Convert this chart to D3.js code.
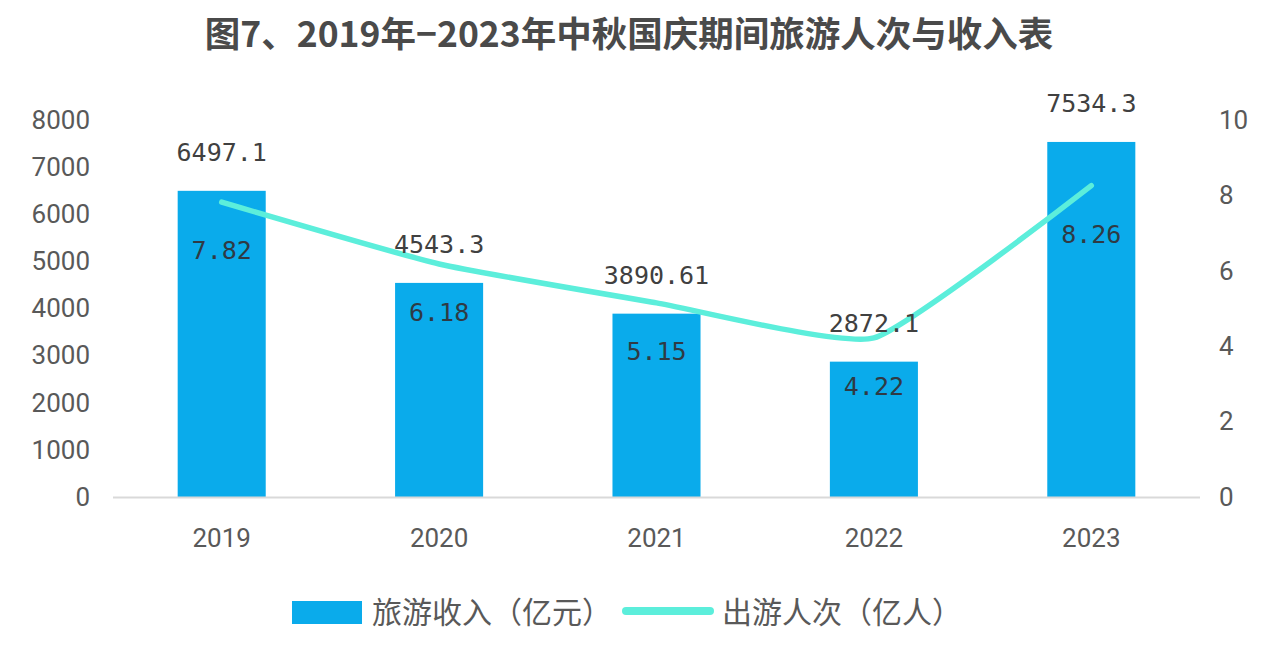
<!DOCTYPE html>
<html><head><meta charset="utf-8">
<script src="https://cdn.jsdelivr.net/npm/d3@7/dist/d3.min.js"></script>
<style>body{margin:0;background:#fff}svg{display:block}</style>
</head><body>
<svg id="c" width="1280" height="668"></svg>
<script>
const years = ["2019","2020","2021","2022","2023"];
const income = [6497.1, 4543.3, 3890.61, 2872.1, 7534.3];
const incomeLabels = ["6497.1","4543.3","3890.61","2872.1","7534.3"];
const visitors = [7.82, 6.18, 5.15, 4.22, 8.26];
const visitorLabels = ["7.82","6.18","5.15","4.22","8.26"];
const leftTicks = [0,1000,2000,3000,4000,5000,6000,7000,8000];
const rightTicks = [0,2,4,6,8,10];
const title = "图7、2019年−2023年中秋国庆期间旅游人次与收入表";
const legendNames = ["旅游收入（亿元）","出游人次（亿人）"];

const svg = d3.select("#c");
const m = {l:113, r:1200, t:120, b:497};
const x = d3.scaleBand().domain(years).range([m.l, m.r]).paddingInner(0.595).paddingOuter(0.2975);
const yL = d3.scaleLinear().domain([0,8000]).range([m.b, m.t]);
const yR = d3.scaleLinear().domain([0,10]).range([m.b, m.t]);
const barColor = "#0AABEB", lineColor = "#5CEEDB";
const sans = "Roboto, 'Noto Sans CJK SC', sans-serif";
const mono = "'DejaVu Sans Mono', monospace";

svg.append("text").attr("x", 629).attr("y", 47).attr("text-anchor","middle")
  .attr("font-family","'Noto Sans CJK SC', sans-serif").attr("font-weight","bold")
  .attr("font-size", 35.5).attr("fill","#4a4a4a").text(title);

// left axis
const ax = svg.append("g").attr("transform",`translate(${m.l},0)`)
  .call(d3.axisLeft(yL).tickValues(leftTicks).tickFormat(d3.format("d")).tickSize(0).tickPadding(23));
ax.select(".domain").remove();
ax.selectAll("text").attr("font-family",sans).attr("font-size",26).attr("fill","#595959");

const axr = svg.append("g").attr("transform",`translate(${m.r},0)`)
  .call(d3.axisRight(yR).tickValues(rightTicks).tickFormat(d3.format("d")).tickSize(0).tickPadding(19));
axr.select(".domain").remove();
axr.selectAll("text").attr("font-family",sans).attr("font-size",26).attr("fill","#595959");

// bars
svg.append("g").selectAll("rect").data(income).join("rect")
  .attr("x",(d,i)=>x(years[i])).attr("width",x.bandwidth())
  .attr("y",d=>yL(d)).attr("height",d=>yL(0)-yL(d)).attr("fill",barColor);

// baseline
svg.append("line").attr("x1",m.l).attr("x2",m.r).attr("y1",yL(0)+0.5).attr("y2",yL(0)+0.5)
  .attr("stroke","#d9d9d9").attr("stroke-width",2);

// x axis labels
const axb = svg.append("g").attr("transform",`translate(0,${m.b})`)
  .call(d3.axisBottom(x).tickSize(0).tickPadding(32));
axb.select(".domain").remove();
axb.selectAll("text").attr("font-family",sans).attr("font-size",26).attr("fill","#595959");

// line
const line = d3.line().x((d,i)=>x(years[i])+x.bandwidth()/2).y(d=>yR(d)).curve(d3.curveCardinal.tension(0.55));
svg.append("path").datum(visitors).attr("d",line).attr("fill","none")
  .attr("stroke",lineColor).attr("stroke-width",5.5).attr("stroke-linecap","round").attr("stroke-linejoin","round");

// bar labels
svg.append("g").selectAll("text").data(income).join("text")
  .attr("x",(d,i)=>x(years[i])+x.bandwidth()/2).attr("y",d=>yL(d)-30)
  .attr("text-anchor","middle").attr("font-family",mono).attr("font-size",25).attr("fill","#404040")
  .text((d,i)=>incomeLabels[i]);

// line labels
svg.append("g").selectAll("text").data(visitors).join("text")
  .attr("x",(d,i)=>x(years[i])+x.bandwidth()/2).attr("y",d=>yR(d)+57)
  .attr("text-anchor","middle").attr("font-family",mono).attr("font-size",25).attr("fill","#2f3a44")
  .text((d,i)=>visitorLabels[i]);

// legend
const lg = svg.append("g");
lg.append("rect").attr("x",292).attr("y",601).attr("width",70).attr("height",23).attr("fill",barColor);
lg.append("text").attr("x",372).attr("y",623).attr("font-family","'Noto Sans CJK SC', sans-serif")
  .attr("font-size",30).attr("fill","#595959").text(legendNames[0]);
lg.append("line").attr("x1",626).attr("x2",710).attr("y1",611).attr("y2",611)
  .attr("stroke",lineColor).attr("stroke-width",8).attr("stroke-linecap","round");
lg.append("text").attr("x",722).attr("y",623).attr("font-family","'Noto Sans CJK SC', sans-serif")
  .attr("font-size",30).attr("fill","#595959").text(legendNames[1]);
</script>
</body></html>
